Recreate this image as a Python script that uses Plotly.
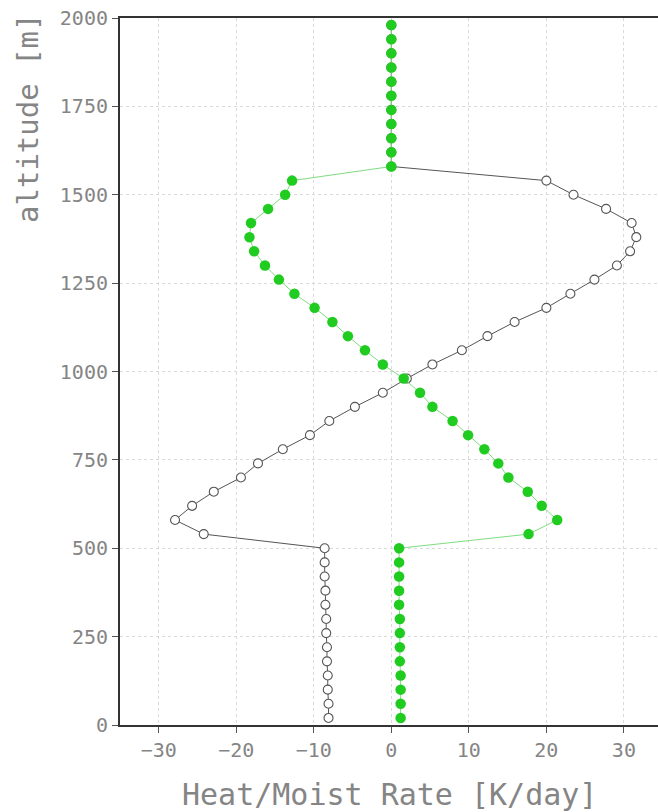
import plotly.graph_objects as go

# Model levels (m)
altitude = [20, 60, 100, 140, 180, 220, 260, 300, 340, 380, 420, 460, 500,
            540, 580, 620, 660, 700, 740, 780, 820, 860, 900, 940, 980, 1020,
            1060, 1100, 1140, 1180, 1220, 1260, 1300, 1340, 1380, 1420, 1460,
            1500, 1540, 1580, 1620, 1660, 1700, 1740, 1780, 1820, 1860, 1900,
            1940, 1980]

# Heating rate profile (K/day)
heat_rate = [-8.1, -8.1, -8.2, -8.2, -8.3, -8.3, -8.4, -8.4, -8.5, -8.5, -8.6, -8.6, -8.6,
             -24.2, -27.9, -25.7, -22.9, -19.4, -17.2, -14.0, -10.5, -8.0, -4.7, -1.1,
             2.0, 5.3, 9.1, 12.4, 15.9, 20.0, 23.1, 26.2, 29.1, 30.8, 31.6, 31.0, 27.7,
             23.5, 20.0,
             0.0, 0.0, 0.0, 0.0, 0.0, 0.0, 0.0, 0.0, 0.0, 0.0, 0.0]

# Moistening rate profile (K/day)
moist_rate = [1.2, 1.2, 1.2, 1.2, 1.1, 1.1, 1.1, 1.1, 1.0, 1.0, 1.0, 1.0, 1.0,
              17.7, 21.4, 19.4, 17.6, 15.1, 13.8, 12.0, 9.9, 7.9, 5.3, 3.7,
              1.6, -1.1, -3.4, -5.6, -7.6, -9.9, -12.5, -14.5, -16.3, -17.7, -18.3,
              -18.1, -15.9, -13.7, -12.8,
              0.0, 0.0, 0.0, 0.0, 0.0, 0.0, 0.0, 0.0, 0.0, 0.0, 0.0]

x_ticks = [-30, -20, -10, 0, 10, 20, 30]
y_ticks = [0, 250, 500, 750, 1000, 1250, 1500, 1750, 2000]

FONT = "DejaVu Sans Mono"
TXT = "#858585"

fig = go.Figure()
fig.add_trace(go.Scatter(
    x=heat_rate, y=altitude, mode="lines+markers",
    line=dict(color="#555555", width=1),
    marker=dict(symbol="circle", size=9, color="white",
                line=dict(color="#555555", width=1.1)),
    showlegend=False))
fig.add_trace(go.Scatter(
    x=moist_rate, y=altitude, mode="lines+markers",
    line=dict(color="#7fdc7f", width=1),
    marker=dict(symbol="circle", size=10.5, color="#1fcc1f",
                line=dict(width=0)),
    showlegend=False))

fig.update_xaxes(
    range=[-35, 34.4], tickvals=x_ticks,
    ticktext=[("\u2212" + str(-v)) if v < 0 else str(v) for v in x_ticks],
    ticks="outside", ticklen=6, tickcolor="#555555",
    showline=True, linecolor="#333333", linewidth=2, mirror=True,
    showgrid=True, gridcolor="#dadada", griddash="dot", gridwidth=1,
    zeroline=False,
    tickfont=dict(family=FONT, size=20, color=TXT))
fig.update_yaxes(
    range=[0, 2000], tickvals=y_ticks,
    ticks="outside", ticklen=6, tickcolor="#555555",
    showline=True, linecolor="#333333", linewidth=2, mirror=False,
    showgrid=True, gridcolor="#dadada", griddash="dot", gridwidth=1,
    zeroline=False,
    tickfont=dict(family=FONT, size=20, color=TXT))

fig.add_annotation(text="Heat/Moist Rate [K/day]", xref="paper", yref="paper",
                   x=0.5, y=-0.098, xanchor="center", yanchor="middle",
                   showarrow=False, font=dict(family=FONT, size=30, color=TXT))
fig.add_annotation(text="altitude [m]", xref="paper", yref="paper",
                   x=-0.171, y=0.8586, xanchor="center", yanchor="middle",
                   textangle=-90, showarrow=False,
                   font=dict(family=FONT, size=29, color=TXT))

fig.update_layout(
    width=658, height=812,
    margin=dict(l=120, r=0, t=18, b=87),
    paper_bgcolor="white", plot_bgcolor="white")

fig.write_html("out.html")
